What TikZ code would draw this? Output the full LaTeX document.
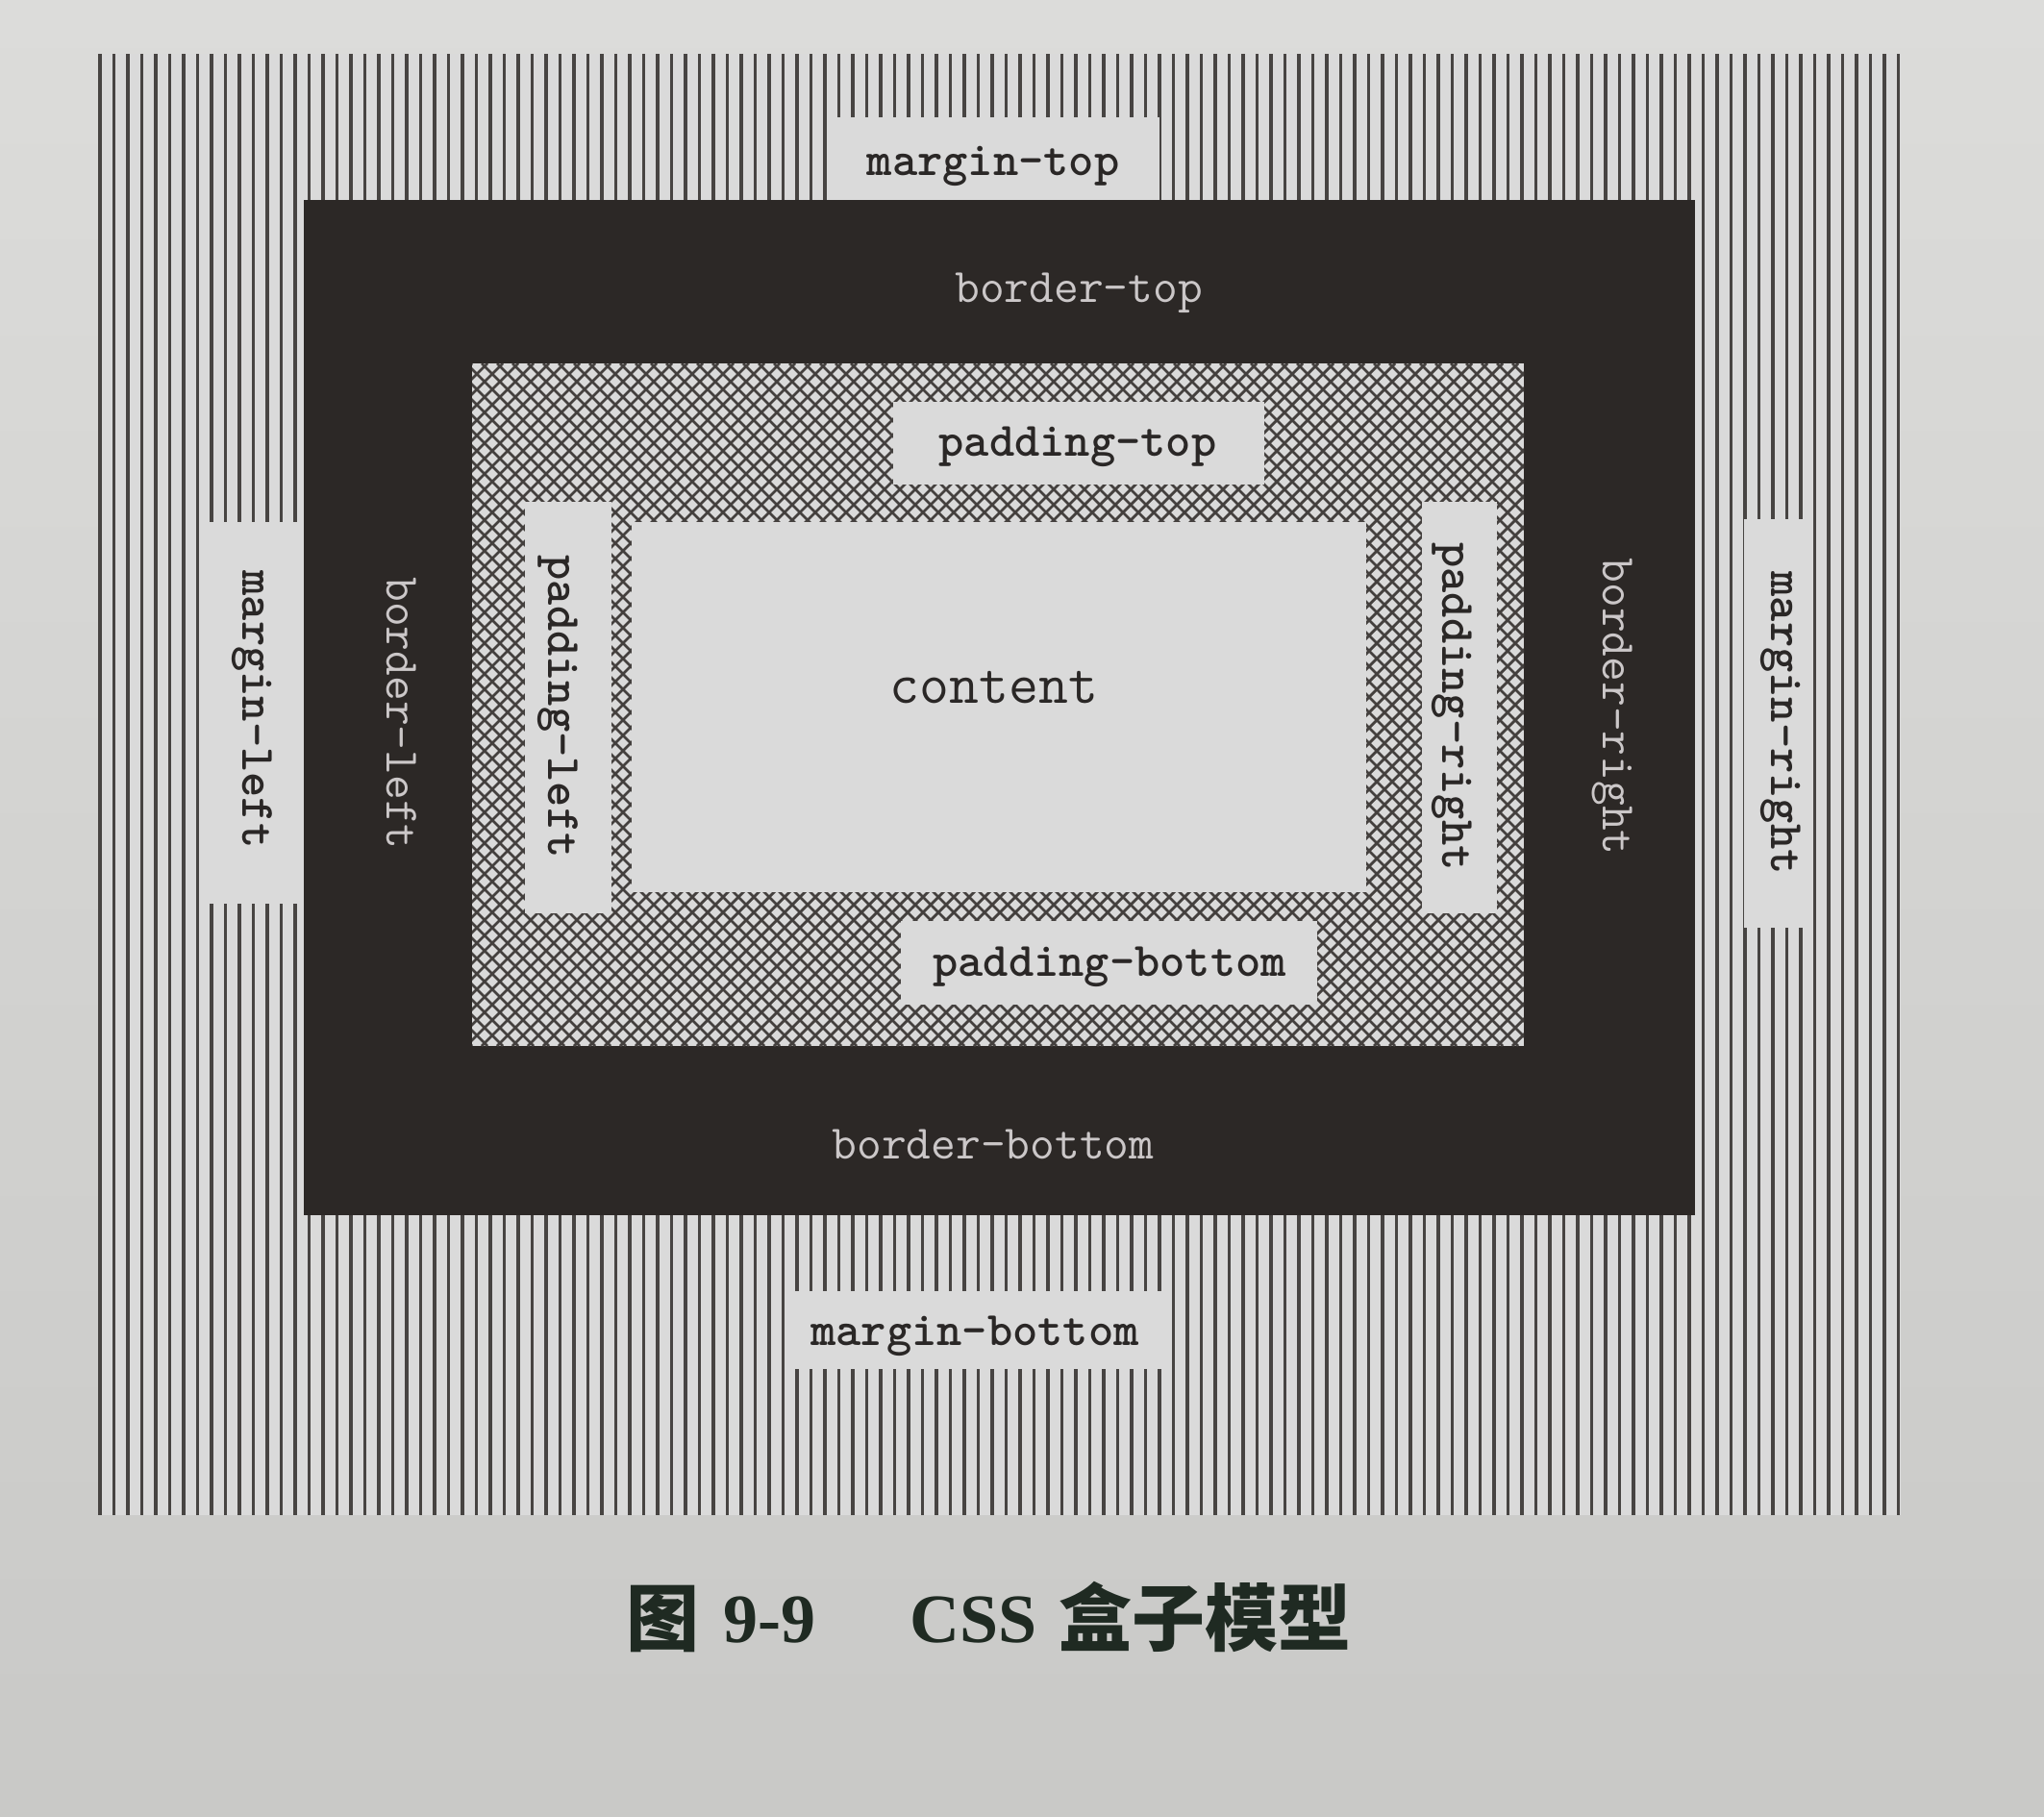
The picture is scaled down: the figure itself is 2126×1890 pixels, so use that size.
\documentclass[tikz,border=0pt]{standalone}
\usepackage{fontspec}
\newfontfamily\cjkfont{Noto Sans CJK SC}
\newfontfamily\capserif{Liberation Serif}
\definecolor{pagetop}{HTML}{DCDCDA}
\definecolor{pagebot}{HTML}{C9C9C7}
\definecolor{paperw}{HTML}{DADADA}
\definecolor{hatchc}{HTML}{474442}
\definecolor{xc}{HTML}{44403E}
\definecolor{brd}{HTML}{2C2826}
\definecolor{lblc}{HTML}{2A2726}
\definecolor{brdlbl}{HTML}{CBC7C8}
\definecolor{capc}{HTML}{1F2A22}
\begin{document}
\begin{tikzpicture}[x=1pt,y=-1pt,
  hatchline/.style={draw=hatchc, line width=3.1pt},
  xline/.style={draw=xc, line width=2.8pt},
  lblbox/.style={fill=paperw, draw=none},
  darklbl/.style={font=\ttfamily\bfseries\fontsize{50}{50}\selectfont, text=lblc, inner sep=0pt},
  lightlbl/.style={font=\ttfamily\fontsize{50}{50}\selectfont, text=brdlbl, inner sep=0pt},
  contentlbl/.style={font=\ttfamily\fontsize{60}{60}\selectfont, text=lblc, inner sep=0pt},
  capcjk/.style={font=\cjkfont\bfseries\fontsize{76}{76}\selectfont, text=capc, inner sep=0pt, anchor=base west},
  caplat/.style={font=\capserif\bfseries\fontsize{72}{72}\selectfont, text=capc, inner sep=0pt, anchor=base west}
]
\useasboundingbox (0,0) rectangle (2126,1890);
\shade[top color=pagetop, bottom color=pagebot] (0,0) rectangle (2126,1890);

% margin area with vertical lines
\fill[paperw] (102,56) rectangle (1977,1576);
\foreach \i in {0,...,129} {
  \draw[hatchline] ({104+\i*14.5},56) -- ++(0,1520);
}

% border
\fill[brd] (316,208) rectangle (1763,1264);

% padding area with cross hatch
\fill[paperw] (491,378) rectangle (1585,1088);
\begin{scope}
  \clip (491,378) rectangle (1585,1088);
  \foreach \i in {0,...,114} {
    \draw[xline] ({-219+\i*16},378) -- ++(710,710);
    \draw[xline] ({491+\i*16},378) -- ++(-710,710);
  }
\end{scope}

% content
\fill[paperw] (657,543) rectangle (1421,928);

% label boxes
\fill[lblbox] (862,122) rectangle (1206,208);
\fill[lblbox] (821,1343) rectangle (1209,1424);
\fill[lblbox] (213,543) rectangle (316,940);
\fill[lblbox] (1814,540) rectangle (1886,965);
\fill[lblbox] (929,418) rectangle (1315,504);
\fill[lblbox] (937,958) rectangle (1370,1045);
\fill[lblbox] (546,522) rectangle (636,950);
\fill[lblbox] (1479,522) rectangle (1557,950);

% labels
\node[darklbl] (mt) at (1033,173) {margin-top};
\node[darklbl] (mb) at (1014,1390) {margin-bottom};
\node[darklbl, rotate=-90] (ml) at (262,738) {margin-left};
\node[darklbl, rotate=-90] (mr) at (1852,752) {margin-right};
\node[lightlbl] (bt) at (1122,305) {border-top};
\node[lightlbl] (bb) at (1033,1190) {border-bottom};
\node[lightlbl, rotate=-90] (bl) at (418,742) {border-left};
\node[lightlbl, rotate=-90] (br) at (1677,735) {border-right};
\node[darklbl] (pt) at (1121,465) {padding-top};
\node[darklbl] (pb) at (1154,1006) {padding-bottom};
\node[darklbl, rotate=-90] (pl) at (580,735) {padding-left};
\node[darklbl, rotate=-90] (pr) at (1510,735) {padding-right};
\node[contentlbl] (ct) at (1034,715) {content};

% caption
\node[capcjk] (c1) at (651,1711) {图};
\node[caplat] (c2) at (752,1708) {9-9};
\node[caplat] (c3) at (946,1708) {CSS};
\node[capcjk] (c4) at (1101,1711) {盒子模型};
\end{tikzpicture}
\end{document}
